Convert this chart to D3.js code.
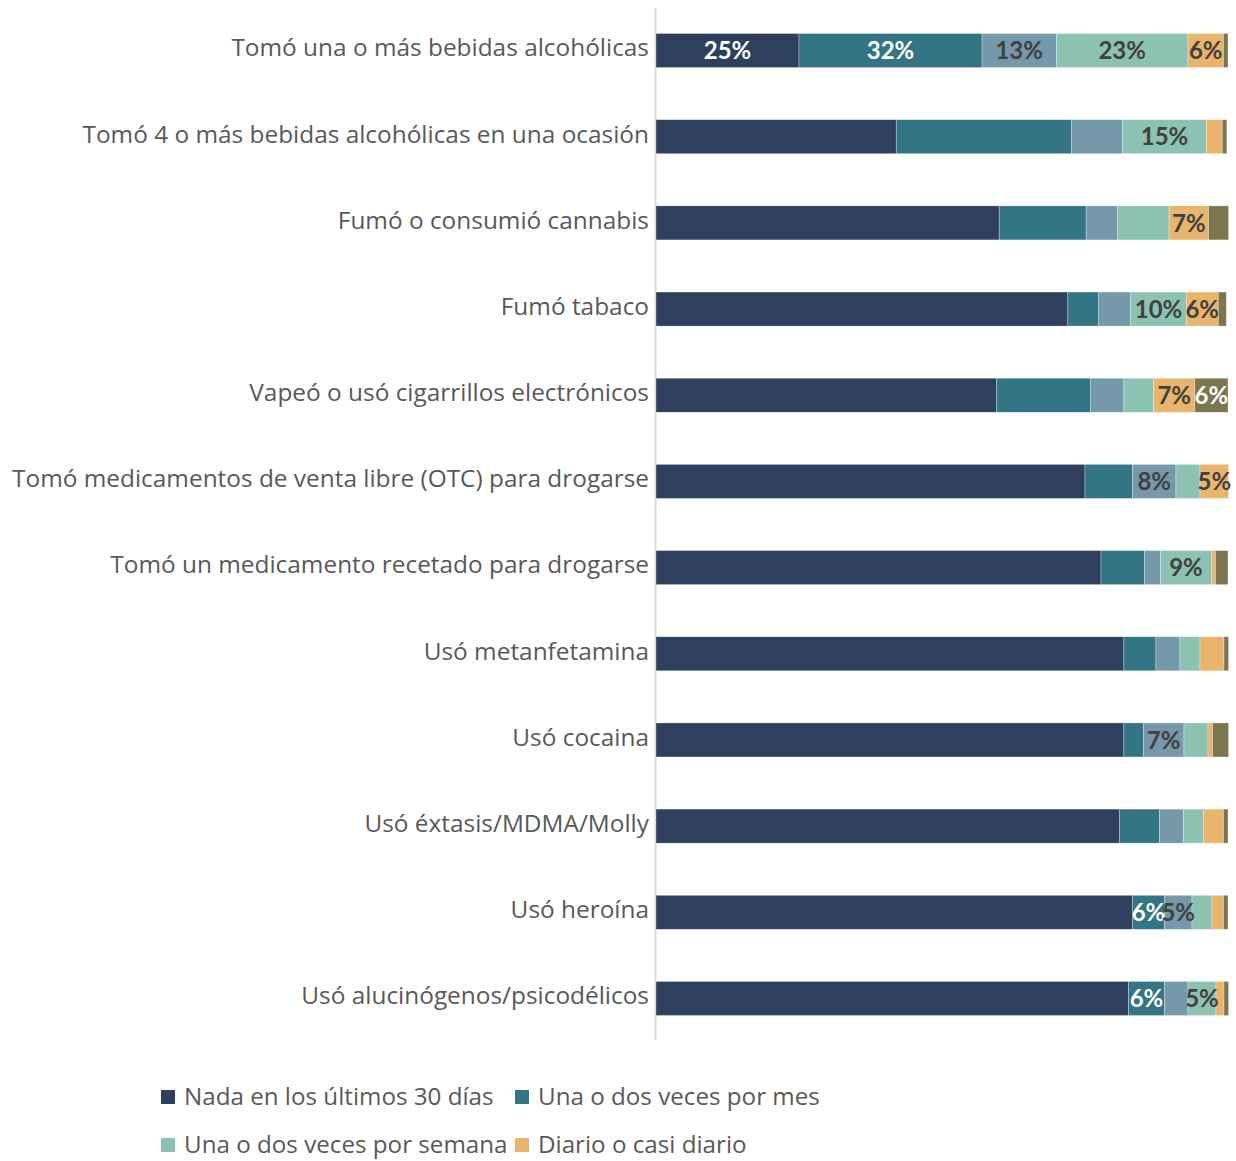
<!DOCTYPE html>
<html>
<head>
<meta charset="utf-8">
<script src="https://cdn.jsdelivr.net/npm/d3@7/dist/d3.min.js"></script>
<style>
  html, body { margin: 0; padding: 0; background: #fff; }
  svg { display: block; }
</style>
</head>
<body>
<svg id="chart" width="1236" height="1161"></svg>
<script>
const categories = [
  "Tomó una o más bebidas alcohólicas",
  "Tomó 4 o más bebidas alcohólicas en una ocasión",
  "Fumó o consumió cannabis",
  "Fumó tabaco",
  "Vapeó o usó cigarrillos electrónicos",
  "Tomó medicamentos de venta libre (OTC) para drogarse",
  "Tomó un medicamento recetado para drogarse",
  "Usó metanfetamina",
  "Usó cocaina",
  "Usó éxtasis/MDMA/Molly",
  "Usó heroína",
  "Usó alucinógenos/psicodélicos"
];

const seriesNames = [
  "Nada en los últimos 30 días",
  "Una o dos veces por mes",
  "Tres a cinco veces por mes",
  "Una o dos veces por semana",
  "Diario o casi diario",
  "Prefiero no responder"
];

const nada      = [25, 42, 60, 72, 59.5, 75, 77.8, 81.8, 81.8, 81, 83.3, 82.6];
const mes       = [32, 30.6, 15.2, 5.4, 16.5, 8.3, 7.6, 5.6, 3.4, 7.0, 5.6, 6.3];
const tresCinco = [13, 9, 5.5, 5.6, 5.8, 7.6, 2.8, 4.2, 7.1, 4.2, 4.8, 4.1];
const semana    = [23, 14.6, 9, 9.7, 5.2, 4.2, 8.9, 3.5, 4.2, 3.5, 3.5, 4.9];
const diario    = [6.2, 2.8, 6.9, 5.6, 7.2, 5.0, 0.7, 4.2, 0.8, 3.5, 2.0, 1.4];
const noResp    = [0.8, 0.8, 3.5, 1.4, 5.8, 0, 2.2, 0.8, 2.8, 0.8, 0.8, 0.8];

// Data labels shown on the chart (null = not shown)
const labelsNada      = ["25%", null, null, null, null, null, null, null, null, null, null, null];
const labelsMes       = ["32%", null, null, null, null, null, null, null, null, null, "6%", "6%"];
const labelsTresCinco = ["13%", null, null, null, null, "8%", null, null, "7%", null, "5%", null];
const labelsSemana    = ["23%", "15%", null, "10%", null, null, "9%", null, null, null, null, "5%"];
const labelsDiario    = ["6%", null, "7%", "6%", "7%", "5%", null, null, null, null, null, null];
const labelsNoResp    = [null, null, null, null, "6%", null, null, null, null, null, null, null];

const legendItems = [
  "Nada en los últimos 30 días",
  "Una o dos veces por mes",
  "Una o dos veces por semana",
  "Diario o casi diario"
];

const colors = ["#2f405e", "#337584", "#7598aa", "#8cc2b2", "#e9b46b", "#7b7650"];
const labelColors = ["#ffffff", "#ffffff", "#404040", "#404040", "#404040", "#ffffff"];

const valueArrays = [nada, mes, tresCinco, semana, diario, noResp];
const labelArrays = [labelsNada, labelsMes, labelsTresCinco, labelsSemana, labelsDiario, labelsNoResp];

const rows = categories.map((c, i) => {
  const r = { cat: c };
  seriesNames.forEach((s, k) => r[s] = valueArrays[k][i]);
  return r;
});

const stacked = d3.stack().keys(seriesNames)(rows);

const svg = d3.select("#chart");

const x = d3.scaleLinear().domain([0, 100]).range([656, 1228]);
const y = d3.scaleBand().domain(categories).range([33.5, 1015.5]).paddingInner(0.605).paddingOuter(0);

// vertical axis line
svg.append("line")
  .attr("x1", 655.5).attr("x2", 655.5)
  .attr("y1", 8).attr("y2", 1040)
  .attr("stroke", "#d9d9d9").attr("stroke-width", 2);

// bars
const groups = svg.append("g").selectAll("g")
  .data(stacked).join("g")
  .attr("fill", (d, i) => colors[i]);

groups.selectAll("rect")
  .data(d => d.map(v => ({ v, key: d.key })))
  .join("rect")
  .attr("x", d => x(d.v[0]))
  .attr("width", d => Math.max(0, x(d.v[1]) - x(d.v[0])))
  .attr("y", d => y(d.v.data.cat))
  .attr("height", y.bandwidth())
  .attr("stroke", "#ffffff")
  .attr("stroke-opacity", 0.5)
  .attr("stroke-width", 0.6);

// data labels
stacked.forEach((layer, k) => {
  svg.append("g").selectAll("text")
    .data(layer.map((v, i) => ({ v, lab: labelArrays[k][i] })).filter(d => d.lab))
    .join("text")
    .attr("x", d => (x(d.v[0]) + x(d.v[1])) / 2)
    .attr("y", d => y(d.v.data.cat) + y.bandwidth() / 2)
    .attr("dy", "0.36em")
    .attr("text-anchor", "middle")
    .attr("font-family", "Lato, 'Open Sans', sans-serif")
    .attr("font-weight", "bold")
    .attr("font-size", 24)
    .attr("fill", labelColors[k])
    .text(d => d.lab);
});

// category labels
const yAxis = d3.axisLeft(y).tickSize(0).tickPadding(0);
const ax = svg.append("g").attr("transform", "translate(649,-2)").call(yAxis);
ax.select(".domain").remove();
ax.selectAll("text")
  .attr("font-family", "'Open Sans', sans-serif")
  .attr("font-size", 24.4)
  .attr("fill", "#595959");

// legend
const legendPos = [
  { x: 161, y: 1097 }, { x: 515, y: 1097 },
  { x: 161, y: 1145 }, { x: 515, y: 1145 }
];
const legendColorIdx = [0, 1, 3, 4];
const lg = svg.append("g").selectAll("g").data(legendItems).join("g")
  .attr("transform", (d, i) => `translate(${legendPos[i].x},${legendPos[i].y})`);
lg.append("rect")
  .attr("x", 0).attr("y", -7).attr("width", 14).attr("height", 14)
  .attr("fill", (d, i) => colors[legendColorIdx[i]]);
lg.append("text")
  .attr("x", 23).attr("y", 0).attr("dy", "0.35em")
  .attr("font-family", "'Open Sans', sans-serif")
  .attr("font-size", 24.2)
  .attr("fill", "#595959")
  .text(d => d);
</script>
</body>
</html>
